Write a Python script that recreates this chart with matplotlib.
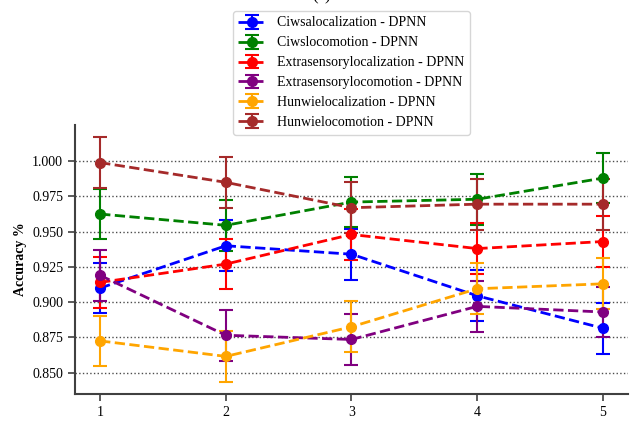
import numpy as np
import matplotlib.pyplot as plt

plt.rcParams['font.family'] = ['Liberation Serif', 'DejaVu Serif']
plt.rcParams['font.size'] = 10

folds = [1, 2, 3, 4, 5]

ciwsa_loc = [0.910, 0.940, 0.934, 0.9045, 0.8815]
ciws_loco = [0.9625, 0.9545, 0.971, 0.973, 0.988]
extra_loc = [0.914, 0.927, 0.948, 0.938, 0.943]
extra_loco = [0.919, 0.8765, 0.8735, 0.897, 0.893]
hunwie_loc = [0.8725, 0.8615, 0.8825, 0.9095, 0.913]
hunwie_loco = [0.999, 0.985, 0.967, 0.9695, 0.9695]

ciwsa_loc_err = [0.018, 0.018, 0.018, 0.018, 0.018]
ciws_loco_err = [0.018, 0.018, 0.018, 0.018, 0.018]
extra_loc_err = [0.018, 0.018, 0.018, 0.018, 0.018]
extra_loco_err = [0.018, 0.018, 0.018, 0.018, 0.018]
hunwie_loc_err = [0.018, 0.018, 0.018, 0.018, 0.018]
hunwie_loco_err = [0.018, 0.018, 0.018, 0.018, 0.018]

labels = ['Ciwsalocalization - DPNN', 'Ciwslocomotion - DPNN',
          'Extrasensorylocalization - DPNN', 'Extrasensorylocomotion - DPNN',
          'Hunwielocalization - DPNN', 'Hunwielocomotion - DPNN']
colors = ['blue', 'green', 'red', 'purple', 'orange', 'brown']
series = [ciwsa_loc, ciws_loco, extra_loc, extra_loco, hunwie_loc, hunwie_loco]
errors = [ciwsa_loc_err, ciws_loco_err, extra_loc_err, extra_loco_err,
          hunwie_loc_err, hunwie_loco_err]

fig = plt.figure(figsize=(6.36, 4.23), dpi=100)
ax = fig.add_axes([75/636, 1 - 394/423, (628 - 75)/636, (394 - 125)/423])

for vals, err, c, lab in zip(series, errors, colors, labels):
    ax.errorbar(folds, vals, yerr=err, fmt='o--', color=c, ecolor=c,
                markersize=7, linewidth=2, elinewidth=1.5, capsize=5,
                capthick=1.5, label=lab)

ax.set_xticks(folds)
ax.set_yticks(np.arange(0.85, 1.0001, 0.025))
ax.yaxis.set_major_formatter(plt.FormatStrFormatter('%.3f'))
ax.grid(axis='y', linestyle=':', color='0.3', linewidth=1)
ax.set_axisbelow(True)

for side in ['top', 'right']:
    ax.spines[side].set_visible(False)
for side in ['left', 'bottom']:
    ax.spines[side].set_linewidth(1.5)
    ax.spines[side].set_color('0.25')
ax.tick_params(length=5, width=1.2, color='0.25')

ax.set_xlabel('Fold Number', fontweight='bold')
ax.set_ylabel('Accuracy %', fontweight='bold')

ax.legend(loc='upper center', bbox_to_anchor=(0.5, 1.424), borderaxespad=0,
          fontsize=10)

fig.text(322/636, 1 - 4/423, '(a)', ha='center', va='bottom', fontsize=12)

fig.savefig('out.png', dpi=100)
